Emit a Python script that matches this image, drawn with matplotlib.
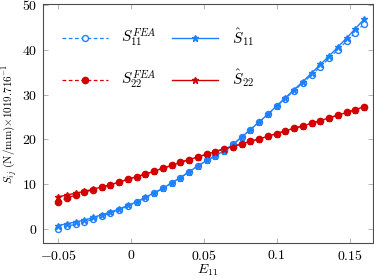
import matplotlib
matplotlib.use("Agg")
import matplotlib.pyplot as plt
from matplotlib.ticker import FixedLocator, FuncFormatter

plt.rcParams["mathtext.fontset"] = "cm"
plt.rcParams["font.family"] = "serif"
plt.rcParams["font.serif"] = ["cmr10", "DejaVu Serif"]
plt.rcParams["axes.formatter.use_mathtext"] = True

BLUE = "#1f80ff"
RED = "#d40000"

# strain E11
E11 = [-0.050, -0.044, -0.038, -0.032, -0.026, -0.020, -0.014, -0.008, -0.002,
       0.004, 0.010, 0.016, 0.022, 0.028, 0.034, 0.040, 0.046, 0.052,
       0.058, 0.064, 0.070, 0.076, 0.082, 0.088, 0.094, 0.100, 0.106,
       0.112, 0.118, 0.124, 0.130, 0.136, 0.142, 0.148, 0.154, 0.160]

S11_FEA = [0.1, 0.6, 1.1, 1.6, 2.2, 2.9, 3.6, 4.3, 5.1,
           6.0, 7.0, 8.0, 9.1, 10.3, 11.5, 12.8, 14.1, 15.3,
           16.3, 17.5, 18.9, 20.5, 22.2, 23.9, 25.6, 27.4, 29.1,
           30.9, 32.6, 34.4, 36.2, 38.1, 40.0, 41.9, 43.8, 45.8]

S11_hat = [0.8, 1.2, 1.6, 2.0, 2.6, 3.2, 3.8, 4.5, 5.3,
           6.1, 7.1, 8.1, 9.1, 10.3, 11.5, 12.8, 14.1, 15.3,
           16.3, 17.5, 18.9, 20.5, 22.2, 23.9, 25.6, 27.5, 29.3,
           31.1, 32.9, 34.8, 36.7, 38.6, 40.6, 42.6, 44.7, 46.8]

S22_FEA = [6.0, 6.9, 7.6, 8.2, 8.8, 9.4, 9.9, 10.5, 11.1,
           11.7, 12.3, 12.9, 13.6, 14.2, 14.9, 15.5, 16.1, 16.7,
           17.3, 17.9, 18.4, 19.0, 19.6, 20.1, 20.7, 21.3, 21.9,
           22.5, 23.0, 23.6, 24.2, 24.8, 25.4, 26.0, 26.6, 27.2]

S22_hat = [7.2, 7.6, 8.0, 8.4, 8.9, 9.4, 9.9, 10.5, 11.1,
           11.7, 12.3, 12.9, 13.6, 14.2, 14.9, 15.5, 16.1, 16.7,
           17.3, 17.9, 18.4, 19.0, 19.6, 20.1, 20.7, 21.3, 21.9,
           22.5, 23.0, 23.6, 24.2, 24.8, 25.4, 26.0, 26.6, 27.3]

XTICKS = [-0.05, 0, 0.05, 0.1, 0.15]
YTICKS = [0, 10, 20, 30, 40, 50]


def fmt(v, _pos=None):
    return f"${v:g}$"


fig = plt.figure(figsize=(3.74, 2.8), dpi=100)
ax = fig.add_axes([0.115, 0.132, 0.882, 0.854])

# FEA reference curves
ax.plot(E11, S11_FEA, color=BLUE, ls=(0, (3, 2)), lw=0.9, marker="o",
        ms=4.3, mfc="white", mec=BLUE, mew=1.0, label=r"$S_{11}^{FEA}$")
ax.plot(E11, S22_FEA, color=RED, ls=(0, (3, 2)), lw=0.9, marker="o",
        ms=4.5, mfc=RED, mec=RED, label=r"$S_{22}^{FEA}$")

# model predictions
ax.plot(E11, S11_hat, color=BLUE, ls="-", lw=1.0, marker="*",
        ms=5.0, mfc=BLUE, mec=BLUE, label=r"$\hat{S}_{11}$")
ax.plot(E11, S22_hat, color=RED, ls="-", lw=1.0, marker="*",
        ms=5.0, mfc=RED, mec=RED, label=r"$\hat{S}_{22}$")

ax.set_xlim(-0.0603, 0.166)
ax.set_ylim(-3.1, 50.2)
ax.xaxis.set_major_locator(FixedLocator(XTICKS))
ax.yaxis.set_major_locator(FixedLocator(YTICKS))
ax.xaxis.set_major_formatter(FuncFormatter(fmt))
ax.yaxis.set_major_formatter(FuncFormatter(fmt))
ax.tick_params(direction="in", length=3.5, width=0.5, color="0.6",
               top=True, right=True, labelsize=10, pad=4)

for sp in ax.spines.values():
    sp.set_linewidth(0.8)
    sp.set_color("0.3")

ax.set_xlabel(r"$E_{11}$", fontsize=10, labelpad=0)
ax.set_ylabel(r"$S_{ij}\ \mathrm{(N/mm)}{\times}1019.716^{-1}$", fontsize=8, labelpad=2)

ax.legend(loc="upper left", ncol=2, frameon=False, fontsize=11,
          handlelength=3.0, handletextpad=0.9, labelspacing=1.3,
          columnspacing=1.0, borderaxespad=0.4, bbox_to_anchor=(0.02, 0.96))

fig.savefig("out.png", dpi=100)
